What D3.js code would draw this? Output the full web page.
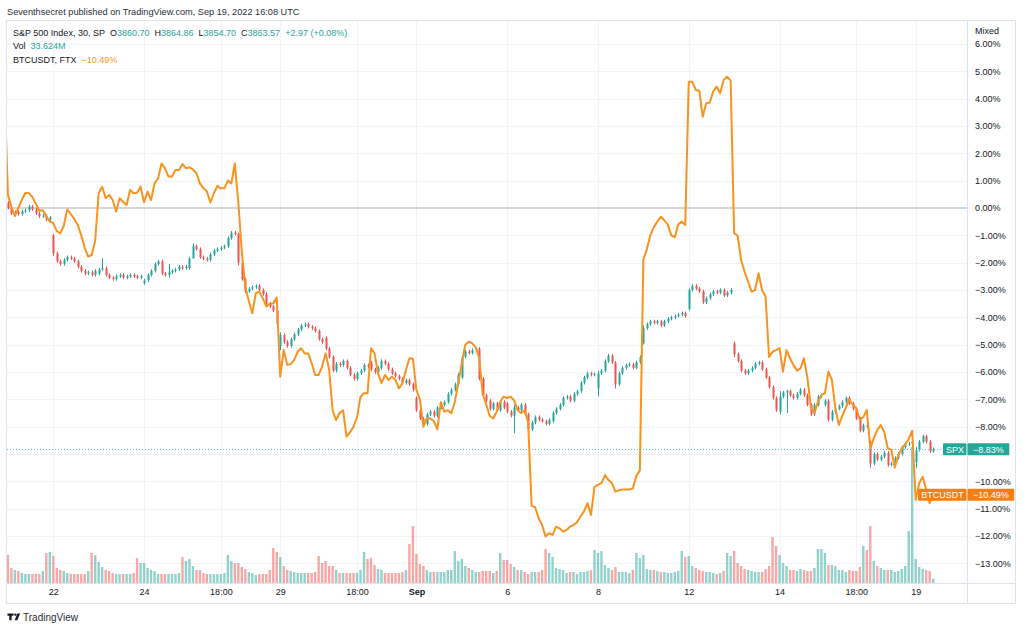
<!DOCTYPE html>
<html>
<head>
<meta charset="utf-8">
<script src="https://cdn.jsdelivr.net/npm/d3@7"></script>
<style>
body{margin:0;background:#fff;}
svg{display:block;font-family:"Liberation Sans",Arial,sans-serif;}
</style>
</head>
<body>
<svg id="chart" width="1024" height="632"></svg>
<script>
// SPX 30 min bars, % change vs first bar, one row per trading day (13 bars a day)
const dayNames = ["Aug19","Aug22","Aug23","Aug24","Aug25","Aug26","Aug29","Aug30","Aug31","Sep1","Sep2",
    "Sep6","Sep7","Sep8","Sep9","Sep12","Sep13","Sep14","Sep15","Sep16","Sep19"];
const spxDayOpen = [0.2,-1.0,-2.4,-2.75,-2.2,-0.9,-5.05,-4.75,-5.65,-6.95,-6.2,-7.15,-7.8,-6.6,-4.95,-3.7,-4.95,-7.45,-7.2,-8.55,-9.3];
const spxClose = [
    [0.0,-0.2,-0.15,-0.22,-0.12,-0.08,0.05,-0.05,-0.2,-0.3,-0.28,-0.42,-0.35],
    [-1.66,-1.95,-2.05,-1.9,-1.8,-1.85,-1.95,-2.15,-2.3,-2.4,-2.35,-2.45,-2.3],
    [-2.25,-2.2,-2.45,-2.55,-2.6,-2.5,-2.45,-2.55,-2.5,-2.45,-2.5,-2.55,-2.5],
    [-2.65,-2.45,-2.3,-2.05,-1.95,-2.4,-2.45,-2.35,-2.3,-2.25,-2.15,-2.2,-2.15],
    [-1.85,-1.4,-1.5,-1.8,-1.85,-1.9,-1.7,-1.55,-1.5,-1.45,-1.4,-1.1,-0.9],
    [-0.95,-2.0,-2.6,-3.05,-2.95,-2.9,-2.85,-3.0,-3.15,-3.5,-3.6,-3.75,-4.25],
    [-4.65,-4.9,-5.05,-4.8,-4.62,-4.45,-4.3,-4.25,-4.35,-4.4,-4.5,-4.8,-4.9],
    [-5.15,-5.45,-5.95,-5.7,-5.75,-5.6,-5.85,-6.1,-6.25,-6.05,-5.95,-5.75,-5.8],
    [-5.9,-6.0,-5.85,-5.6,-5.7,-5.9,-6.05,-6.15,-6.25,-6.4,-6.3,-6.45,-6.65],
    [-7.4,-7.7,-7.9,-7.55,-7.45,-7.6,-7.3,-7.2,-7.1,-6.8,-6.65,-6.45,-6.1],
    [-5.45,-5.25,-5.3,-5.2,-5.15,-6.25,-6.85,-7.05,-7.35,-7.15,-7.4,-7.1,-7.3],
    [-7.45,-7.6,-7.3,-7.4,-7.2,-7.55,-8.1,-7.85,-7.65,-7.75,-7.8,-7.9,-7.75],
    [-7.5,-7.35,-7.2,-6.95,-6.9,-7.05,-6.8,-6.7,-6.4,-6.2,-6.05,-6.1,-6.08],
    [-6.05,-5.95,-5.6,-5.4,-5.65,-6.45,-6.05,-5.85,-5.75,-5.72,-5.85,-5.65,-5.45],
    [-4.4,-4.25,-4.15,-4.2,-4.15,-4.3,-4.15,-4.05,-4.0,-3.95,-3.9,-3.85,-3.95],
    [-3.0,-2.85,-2.95,-3.05,-3.45,-3.3,-3.15,-3.05,-3.1,-3.0,-3.2,-3.1,-3.0],
    [-5.35,-5.6,-5.95,-6.05,-5.95,-5.85,-5.7,-5.65,-5.9,-6.2,-6.55,-6.95,-7.4],
    [-6.9,-6.75,-6.7,-6.85,-6.95,-6.8,-6.65,-6.85,-7.2,-7.55,-7.2,-6.9,-6.85],
    [-7.05,-7.75,-7.45,-7.35,-7.25,-7.1,-6.95,-7.15,-7.35,-7.7,-8.15,-7.95,-8.0],
    [-9.35,-9.0,-9.2,-9.1,-8.95,-9.4,-9.35,-9.15,-9.0,-8.75,-8.65,-8.62,-8.55],
    [-8.85,-8.55,-8.35,-8.55,-8.9,-8.83]
];
// bars whose wicks stick out further: [bar, high, low]
const longWicks = [[0,0.25,-0.05],[13,-0.95,-1.75],[27,-1.84,-2.3],[46,-2.05,-2.55],[53,-1.3,-1.7],
    [66,-0.9,-2.1],[78,-4.55,-5.2],[145,-7.2,-8.24],[169,-5.95,-6.9],[174,-5.6,-6.6],[182,-4.3,-5.0],
    [195,-2.95,-3.75],[208,-4.88,-5.45],[221,-6.7,-7.55],[223,-6.65,-7.5],[247,-8.5,-9.5],[260,-8.75,-9.5]];

// volume, millions
const volume = [
    [224,120,104,96,80,72,72,72,72,72,96,240,248],
    [216,120,104,96,80,72,72,72,72,72,96,240,224],
    [168,128,104,96,80,72,72,72,72,72,80,200,160],
    [160,120,104,96,72,72,72,72,72,72,80,208,176],
    [192,136,104,104,80,72,72,72,72,72,80,224,176],
    [160,160,128,112,88,80,64,72,72,72,104,280,248],
    [208,136,104,96,88,80,80,80,80,80,88,216,160],
    [176,136,136,104,80,80,80,80,80,80,104,248,192],
    [200,144,112,104,80,80,80,80,80,88,104,312,456],
    [232,152,136,104,88,88,88,88,88,104,104,256,176],
    [192,136,120,104,88,88,96,96,96,80,96,240,184],
    [184,152,128,104,104,88,72,88,88,88,104,272,240],
    [208,120,112,104,80,88,88,72,88,88,96,104,264],
    [240,256,144,120,104,128,88,88,88,80,104,240,200],
    [224,112,104,104,96,88,88,80,80,88,96,256,208],
    [216,136,120,104,96,88,88,80,72,80,96,240,216],
    [256,160,136,112,104,96,88,88,88,112,136,368,296],
    [224,160,136,104,104,96,112,104,96,96,120,272,272],
    [240,144,144,136,104,104,88,104,96,96,128,296,264],
    [456,176,136,120,104,104,104,88,96,112,136,416,1088],
    [192,128,112,104,96,33.624]
];

// BTCUSDT (FTX) % change sampled at the same bars, plus the bar before the window
const btcBefore = 4.4;
const btcClose = [
    [0.48,0.05,-0.3,0.0,0.3,0.55,0.55,0.4,0.15,-0.1,-0.08,-0.3,-0.5],
    [-0.55,-0.85,-0.93,-0.65,-0.05,-0.22,-0.4,-0.62,-1.0,-1.45,-1.78,-1.72,-1.2],
    [0.54,0.78,0.36,0.48,0.29,-0.13,0.36,0.23,0.11,0.66,0.54,0.56,0.78],
    [0.2,0.6,0.29,0.9,1.08,1.63,1.45,1.15,1.15,1.39,1.39,1.61,1.45],
    [1.49,1.41,1.27,0.9,0.72,0.6,0.2,0.54,0.81,0.72,0.72,1.0,0.9],
    [1.63,0.2,-1.6,-2.88,-3.4,-3.85,-3.12,-3.06,-3.3,-3.6,-3.5,-3.49,-3.28],
    [-6.17,-5.2,-5.74,-5.71,-5.56,-5.26,-5.13,-5.32,-5.32,-5.68,-6.11,-6.11,-5.8],
    [-5.32,-5.9,-7.4,-7.76,-7.5,-7.4,-8.37,-8.2,-8.0,-7.65,-6.9,-6.78,-6.78],
    [-5.13,-5.32,-6.05,-6.41,-6.11,-6.29,-6.17,-6.29,-6.6,-6.41,-5.93,-5.5,-5.52],
    [-6.66,-7.0,-8.0,-7.7,-7.7,-7.8,-8.1,-7.1,-7.45,-7.4,-7.51,-7.09,-6.41],
    [-5.68,-5.0,-4.89,-4.95,-5.1,-5.5,-6.8,-7.2,-7.6,-7.7,-7.45,-7.1,-6.9],
    [-6.95,-6.9,-7.05,-7.4,-7.5,-7.4,-7.85,-10.9,-10.95,-11.35,-11.6,-12.02,-11.9],
    [-11.96,-11.66,-11.72,-11.84,-11.78,-11.66,-11.6,-11.5,-11.29,-11.1,-10.8,-11.23,-10.2],
    [-10.13,-10.07,-9.77,-9.95,-10.07,-10.38,-10.33,-10.3,-10.3,-10.3,-10.26,-9.8,-9.6],
    [-1.9,-1.5,-1.0,-0.7,-0.5,-0.32,-0.45,-0.6,-1.0,-1.07,-0.6,-0.5,-0.62],
    [4.62,4.62,4.32,4.29,3.34,3.83,3.85,4.26,4.44,4.2,4.68,4.8,4.66],
    [-0.93,-1.0,-1.9,-2.33,-2.7,-3.06,-3.0,-2.39,-3.0,-3.24,-5.45,-5.26,-5.2],
    [-5.13,-5.99,-5.2,-5.5,-5.75,-5.95,-5.87,-5.5,-6.23,-7.3,-7.5,-7.1,-6.84],
    [-6.78,-5.99,-6.3,-7.33,-7.94,-7.6,-7.3,-7.0,-7.21,-7.33,-7.75,-7.65,-7.39],
    [-8.79,-8.43,-8.12,-7.94,-8.2,-8.79,-8.85,-9.5,-9.05,-8.8,-8.65,-8.45,-8.15],
    [-10.68,-10.07,-9.83,-10.3,-10.8,-10.49]
];

const timeTicks = [13,39,61,78,100,117,143,169,195,221,243,260];
const timeLabels = ["22","24","18:00","29","18:00","Sep","6","8","12","14","18:00","19"];
const priceTicks = d3.range(-13, 7);

const legendOHLC = [["O","3860.70"],["H","3864.86"],["L","3854.70"],["C","3863.57"]];
const legendChange = "+2.97 (+0.08%)";
const legendVol = "33.624M";
const spxLast = -8.83, btcLast = -10.49;

const teal = "#26a69a", red = "#ef5350", orange = "#f7931e", textCol = "#131722";
const plotL = 7, plotR = 967, plotT = 21, plotB = 583;

let svg = d3.select("#chart");

// flatten days into bars
let bars = [];
let n = 0;
spxClose.forEach((day, d) => {
    let o = spxDayOpen[d];
    day.forEach((c, k) => {
        bars.push({i: n, day: dayNames[d], o: o, c: c,
            hi: Math.max(o, c) + 0.06, lo: Math.min(o, c) - 0.06, v: volume[d][k]});
        o = c;
        n++;
    });
});
longWicks.forEach(w => { bars[w[0]].hi = w[1]; bars[w[0]].lo = w[2]; });

let btc = [{i: -1, v: btcBefore}];
let m = 0;
btcClose.forEach(day => day.forEach(v => { btc.push({i: m, v: v}); m++; }));

let x = d3.scaleLinear().domain([0, n - 1]).range([7.9, 7.9 + (n - 1) * 3.4915]);
let y = d3.scaleLinear().domain([6, -13]).range([44, 563.3]);
let yVol = d3.scaleLinear().domain([0, 1100]).range([plotB, plotB - 137.5]);

svg.append("defs").append("clipPath").attr("id", "plotclip")
    .append("rect").attr("x", plotL).attr("y", plotT).attr("width", plotR - plotL).attr("height", plotB - plotT);

// frame
svg.append("rect").attr("x", 6.5).attr("y", 20.5).attr("width", 1009).attr("height", 583)
    .attr("fill", "none").attr("stroke", "#e0e3eb");
svg.append("line").attr("x1", plotR + 0.5).attr("x2", plotR + 0.5).attr("y1", 21).attr("y2", 604)
    .attr("stroke", "#e0e3eb");
svg.append("line").attr("x1", 7).attr("x2", 1015).attr("y1", plotB + 0.5).attr("y2", plotB + 0.5)
    .attr("stroke", "#e0e3eb");

let grid = svg.append("g");
grid.selectAll("line.h").data(priceTicks).join("line").attr("class", "h")
    .attr("x1", plotL).attr("x2", plotR)
    .attr("y1", d => Math.round(y(d)) + 0.5).attr("y2", d => Math.round(y(d)) + 0.5)
    .attr("stroke", "#f0f3fa");
grid.selectAll("line.v").data(timeTicks).join("line").attr("class", "v")
    .attr("x1", d => Math.round(x(d)) + 0.5).attr("x2", d => Math.round(x(d)) + 0.5)
    .attr("y1", plotT).attr("y2", plotB)
    .attr("stroke", "#f0f3fa");

let plot = svg.append("g").attr("clip-path", "url(#plotclip)");

// zero base line
plot.append("line").attr("x1", plotL).attr("x2", plotR).attr("y1", y(0)).attr("y2", y(0))
    .attr("stroke", "#d6d6d9").attr("stroke-width", 2);

// volume
plot.append("g").selectAll("rect").data(bars).join("rect")
    .attr("x", d => x(d.i) - 1.2)
    .attr("width", 2.4)
    .attr("y", d => yVol(d.v))
    .attr("height", d => plotB - yVol(d.v))
    .attr("fill", d => d.c >= d.o ? teal : red)
    .attr("fill-opacity", 0.5);

// candles
let cg = plot.append("g");
cg.selectAll("line").data(bars).join("line")
    .attr("x1", d => Math.round(x(d.i)) + 0.5).attr("x2", d => Math.round(x(d.i)) + 0.5)
    .attr("y1", d => y(d.hi)).attr("y2", d => y(d.lo))
    .attr("stroke", d => d.c >= d.o ? teal : red);
cg.selectAll("rect").data(bars).join("rect")
    .attr("x", d => Math.round(x(d.i)) - 0.5)
    .attr("width", 2)
    .attr("y", d => y(Math.max(d.o, d.c)))
    .attr("height", d => Math.max(1, Math.abs(y(d.o) - y(d.c))))
    .attr("fill", d => d.c >= d.o ? teal : red);

// BTC comparison line
let line = d3.line().x(d => x(d.i)).y(d => y(d.v));
plot.append("path").datum(btc)
    .attr("d", line)
    .attr("fill", "none")
    .attr("stroke", orange)
    .attr("stroke-width", 2)
    .attr("stroke-linejoin", "round");

// last price line of SPX
plot.append("line").attr("x1", plotL).attr("x2", plotR)
    .attr("y1", Math.round(y(spxLast)) + 0.5).attr("y2", Math.round(y(spxLast)) + 0.5)
    .attr("stroke", "#5cbfb5").attr("stroke-dasharray", "1,2");

// price axis, ticks hidden under the last-value labels are left out
let fmtPct = d => (d < 0 ? "\u2212" : "") + Math.abs(d).toFixed(2) + "%";
let shownTicks = priceTicks.filter(t => Math.abs(y(t) - y(spxLast)) > 9 && Math.abs(y(t) - y(btcLast)) > 9);
let yAxis = d3.axisRight(y).tickValues(shownTicks).tickFormat(fmtPct).tickSize(0).tickPadding(8);
let ya = svg.append("g").attr("transform", "translate(" + plotR + ",0)").call(yAxis);
ya.select(".domain").remove();
ya.selectAll("text").attr("font-size", 9).attr("fill", textCol)
    .attr("font-family", "Liberation Sans, Arial, sans-serif");
svg.append("text").attr("x", 975).attr("y", 34).attr("font-size", 9).attr("fill", textCol).text("Mixed");

// time axis
let xAxis = d3.axisBottom(x).tickValues(timeTicks).tickFormat((d, k) => timeLabels[k]).tickSize(0).tickPadding(6);
let xa = svg.append("g").attr("transform", "translate(0," + plotB + ")").call(xAxis);
xa.select(".domain").remove();
xa.selectAll("text").attr("font-size", 9).attr("fill", textCol)
    .attr("font-family", "Liberation Sans, Arial, sans-serif")
    .attr("font-weight", (d, k) => timeLabels[k] == "Sep" ? "bold" : "normal");

// last value labels
function priceLabel(name, value, color, nameLeft) {
    let g = svg.append("g");
    let yc = y(value);
    let vt = g.append("text").attr("x", plotR + 6).attr("y", yc + 3.3)
        .attr("font-size", 9).attr("fill", "#fff").text(fmtPct(value));
    let w = vt.node().getComputedTextLength();
    g.insert("rect", "text").attr("x", plotR + 0.5).attr("y", yc - 6).attr("width", w + 11).attr("height", 12)
        .attr("fill", color).attr("rx", 1);
    g.append("rect").attr("x", nameLeft).attr("y", yc - 6).attr("width", plotR - nameLeft - 0.5).attr("height", 12)
        .attr("fill", color).attr("rx", 1);
    g.append("text").attr("x", (nameLeft + plotR) / 2).attr("y", yc + 3.3).attr("text-anchor", "middle")
        .attr("font-size", 9).attr("fill", "#fff").text(name);
}
priceLabel("SPX", spxLast, teal, 943);
priceLabel("BTCUSDT", btcLast, "#f57f17", 918);

// header + legend
svg.append("text").attr("x", 7).attr("y", 15).attr("font-size", 9.2).attr("fill", "#2a2e39")
    .text("Seventhsecret published on TradingView.com, Sep 19, 2022 16:08 UTC");

let leg = svg.append("g").attr("font-size", 9).attr("fill", textCol);
let l1 = leg.append("text").attr("x", 13).attr("y", 35.5);
l1.append("tspan").text("S&P 500 Index, 30, SP");
legendOHLC.forEach(p => {
    l1.append("tspan").attr("dx", 5).text(p[0]);
    l1.append("tspan").attr("fill", teal).text(p[1]);
});
l1.append("tspan").attr("dx", 5).attr("fill", teal).text(legendChange);
let vl = leg.append("text").attr("x", 13).attr("y", 49);
vl.append("tspan").text("Vol");
vl.append("tspan").attr("dx", 5).attr("fill", teal).text(legendVol);
let bl = leg.append("text").attr("x", 13).attr("y", 62.5);
bl.append("tspan").text("BTCUSDT, FTX");
bl.append("tspan").attr("dx", 5).attr("fill", orange).text(fmtPct(btcLast));

// TradingView mark
let logo = svg.append("g").attr("fill", textCol);
logo.append("path").attr("d", "M7.5 613.5h6v2.2h-1.9v4.6h-2.3v-4.6h-1.8z");
logo.append("circle").attr("cx", 15.3).attr("cy", 614.6).attr("r", 1.2);
logo.append("path").attr("d", "M17.4 613.5h2.7l-2.8 6.8h-2.7z");
svg.append("text").attr("x", 23).attr("y", 620.5).attr("font-size", 10).attr("fill", "#2a2e39").text("TradingView");
</script>
</body>
</html>
